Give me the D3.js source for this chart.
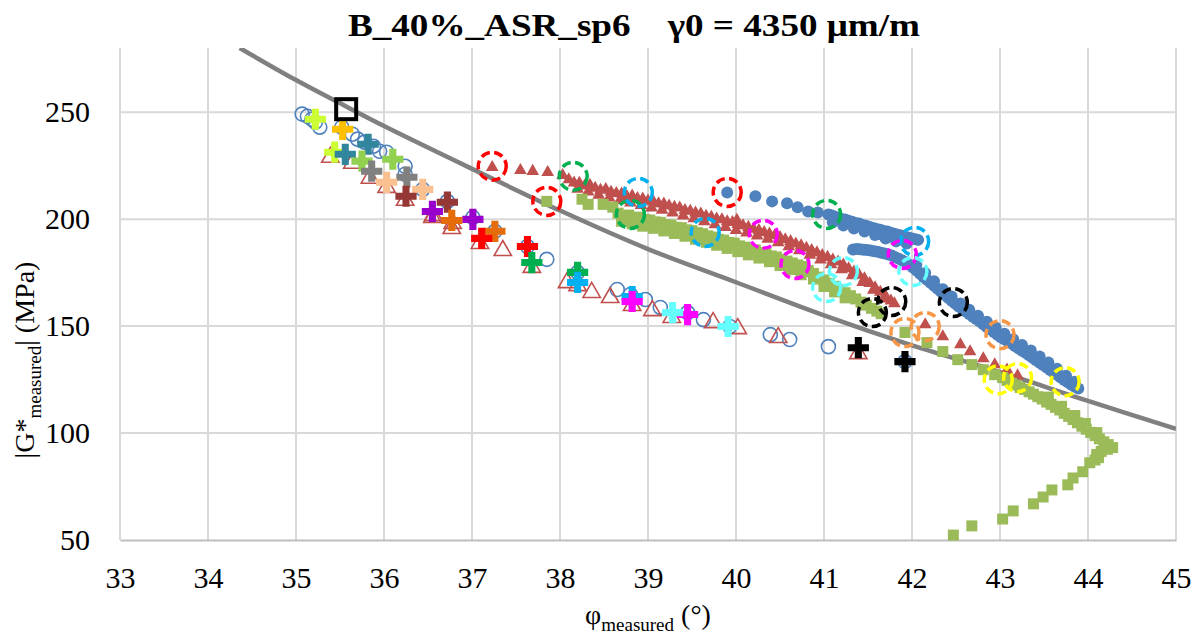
<!DOCTYPE html>
<html><head><meta charset="utf-8">
<script src="https://cdn.jsdelivr.net/npm/d3@7"></script>
<style>
body{margin:0;background:#fff}
svg text{font-family:"Liberation Serif","Times New Roman",Tinos,"DejaVu Serif","Noto Serif",serif !important;fill:#000}
</style>
</head><body>
<svg id="c" width="1200" height="638"></svg>
<script>
// ---------------- DATA ----------------
const xTicks=[33,34,35,36,37,38,39,40,41,42,43,44,45];
const yTicks=[50,100,150,200,250];
const titleText="B_40%_ASR_sp6    γ0 = 4350 μm/m";

// fitted reference curve (grey)
const fitCurve=[[34.36,280],[35,265],[35.6,252],[36,243.5],[37,223.5],[38,204],[39,186],[40,170.5],[41,155],[42,141],[43,128.5],[44,115],[45,102]];

// open blue circles (lower branch)
const openCircles=[[35.07,249.1],[35.13,248.1],[35.18,246.7],[35.22,245.3],[35.27,243.0],[35.52,243.0],[35.64,239.7],[35.70,237.4],[35.78,236.0],[35.88,234.1],[35.95,231.7],[36.03,231.3],[36.24,224.7],[36.24,221.0],[36.44,213.9],[36.72,208.3],[37.01,200.8],[37.26,194.3],[37.63,187.2],[37.85,181.2],[38.20,175.1],[38.65,167.1],[38.80,164.8],[38.97,162.4],[39.14,158.7],[39.45,156.3],[39.63,153.0],[39.93,149.8],[40.39,146.0],[40.61,143.7],[41.05,140.4],[41.92,133.4]];

// open red triangles (lower branch)
const openTriangles=[[35.39,229.4],[35.64,226.6],[35.84,219.6],[36.03,215.3],[36.24,209.3],[36.55,201.3],[36.56,202.2],[36.78,198.5],[36.77,196.1],[37.09,189.1],[37.35,185.8],[37.68,177.9],[38.08,170.8],[38.20,169.4],[38.36,166.2],[38.57,163.8],[38.82,160.1],[39.05,157.7],[39.27,154.5],[39.74,152.1],[40.02,149.3],[40.48,145.1],[41.39,137.6]];

// plus-sign series (pairs)
const plusPoints=[
 [[35.22,246.7],[35.44,231.3]],
 [[35.53,242.0]],
 [[35.82,235.0],[35.56,230.3]],
 [[35.75,227.1],[36.10,228.0]],
 [[35.86,222.4],[36.26,219.6]],
 [[36.03,217.2],[36.44,213.9]],
 [[36.25,210.7],[36.72,207.9]],
 [[36.55,203.6],[37.01,199.9]],
 [[36.77,199.4],[37.26,194.3]],
 [[37.11,191.0],[37.63,187.2]],
 [[37.68,179.7],[38.20,175.1]],
 [[38.20,170.4],[38.82,163.8]],
 [[38.82,161.5],[39.45,155.4]],
 [[39.28,156.3],[39.91,149.8]],
 [[41.39,139.9],[41.92,133.4]]
];

// filled red triangles (upper middle branch + lower trail)
const redTriangles=[[37.23,224.2],[37.55,222.8],[37.69,222.4],[37.86,221.9],[38.03,220.5],
[38.10,218.5],[38.16,217.0],[38.22,216.8],[38.28,215.6],[38.34,215.9],[38.40,214.5],[38.46,213.6],[38.52,213.9],[38.58,212.6],[38.64,212.1],[38.70,211.8],[38.76,210.6],[38.82,210.9],[38.88,209.7],[38.94,209.5],[39.00,208.6],[39.06,208.2],[39.12,207.3],[39.18,207.1],[39.24,206.2],[39.30,205.6],[39.36,205.3],[39.42,204.1],[39.48,203.8],[39.54,202.9],[39.60,202.5],[39.66,201.4],[39.72,201.0],[39.78,200.1],[39.84,199.8],[39.90,198.8],[39.96,198.5],[40.01,199.5],[40.02,197.6],[40.08,197.0],[40.14,196.3],[40.20,195.4],[40.26,194.8],[40.32,193.8],[40.38,193.1],[40.44,192.3],[40.50,191.5],[40.56,190.4],[40.62,189.6],[40.68,188.5],[40.74,187.6],[40.80,186.5],[40.86,185.4],[40.92,184.3],[40.98,183.1],[41.04,182.2],[41.10,181.0],[41.16,180.0],[41.22,178.6],[41.28,176.9],[41.34,175.4],[41.40,173.8],[41.46,172.2],[41.52,170.0],[41.58,168.0],[41.64,165.9],[41.70,164.0],[41.76,161.8],[41.80,160.5],
[38.20,214.0],[38.32,212.8],[38.44,211.2],[38.56,210.0],[38.68,208.8],[38.80,207.6],[38.92,206.5],[39.04,205.3],[39.16,204.2],[39.28,202.9],[39.40,201.6],[39.52,200.3],[39.64,198.9],[39.76,197.5],[39.88,196.2],[40.00,194.8],[40.12,193.6],[40.24,192.2],[40.36,190.7],[40.48,189.0],[40.60,187.2],[40.72,185.3],[40.84,183.2],[40.96,181.0],[41.08,178.8],[41.20,176.4],[41.32,173.6],[41.44,170.4],[41.56,166.8],[41.68,162.8],
[42.15,150.7],[42.35,145.1],[42.55,141.3],[42.66,138.1],[42.81,134.8],[42.94,132.0],[43.08,129.6],[43.20,126.8]];

// filled green squares
const greenSquares=[[37.85,208.3],[38.25,209.3],[38.32,206.9],[38.49,206.9],[38.60,205.6],
[38.66,202.8],[38.72,201.6],[38.78,201.9],[38.84,200.8],[38.90,200.9],[38.96,199.8],[39.02,199.6],[39.08,198.7],[39.14,198.5],[39.20,197.4],[39.26,197.3],[39.32,196.2],[39.38,196.0],[39.44,195.0],[39.50,194.6],[39.56,193.7],[39.62,193.2],[39.68,192.2],[39.74,191.6],[39.80,190.6],[39.86,190.2],[39.92,189.1],[39.98,188.8],[40.04,187.5],[40.10,186.9],[40.16,186.0],[40.22,185.6],[40.28,184.4],[40.34,184.0],[40.40,182.8],[40.46,182.3],[40.52,181.2],[40.58,180.4],[40.64,179.5],[40.70,178.6],[40.76,177.9],[40.76,175.5],[40.82,176.0],[40.88,174.6],[40.88,172.0],[40.94,172.9],[41.00,171.6],[41.00,168.5],[41.06,170.0],[41.12,168.6],[41.12,166.0],[41.18,167.0],[41.24,165.6],[41.24,163.2],[41.30,164.2],[41.36,162.7],[41.42,161.2],[41.48,159.8],[41.54,158.3],[41.60,157.0],[41.65,155.8],
[38.70,199.0],[38.82,197.8],[38.94,196.7],[39.06,195.7],[39.18,194.5],[39.30,193.3],[39.42,192.0],[39.54,190.6],[39.66,189.2],[39.78,187.8],[39.90,186.3],[40.02,184.8],[40.14,183.3],[40.26,181.8],[40.38,180.1],[40.50,178.3],[40.62,176.4],[40.74,174.0],
[41.92,147.0],[42.17,142.3],[42.35,138.1],[42.52,134.3],[42.68,132.0],[42.81,129.6],[42.94,127.3],[43.03,125.9],
[43.08,124.6],[43.13,123.3],[43.18,122.4],[43.23,121.3],[43.28,120.4],[43.33,119.3],[43.38,118.2],[43.43,117.0],[43.48,115.9],[43.53,114.5],[43.58,113.4],[43.63,112.0],[43.68,110.8],[43.73,109.2],[43.78,107.8],[43.83,106.3],[43.88,104.8],[43.93,103.2],[43.98,101.8],[44.03,100.3],[44.08,98.8],[44.13,97.3],[44.18,95.9],[44.23,94.6],[44.28,93.2],
[43.55,116.8],[43.70,112.5],[43.85,108.2],[43.97,104.5],[44.10,100.2],[44.22,92.4],[44.15,91.4],[44.10,90.0],[44.12,88.5],[44.08,87.4],
[44.10,88.9],[44.02,86.1],[43.94,81.9],[43.83,79.0],[43.77,75.8],[43.59,73.4],[43.49,70.1],[43.38,66.9],[43.15,63.6],[43.03,59.8],[42.68,56.6],[42.47,52.3]];

// filled blue circles (upper right branch)
const blueCircles=[[39.90,212.5],[40.22,210.7],[40.41,208.3],[40.58,207.4],[40.70,205.5],[40.82,203.6],[40.93,203.1],[41.05,202.2],
[41.08,201.8],[41.12,201.2],[41.16,200.7],[41.20,200.1],[41.24,199.8],[41.28,199.2],[41.32,198.8],[41.36,198.2],[41.40,197.9],[41.44,197.2],[41.48,196.9],[41.52,196.3],[41.56,195.9],[41.60,195.4],[41.60,193.5],[41.64,195.0],[41.64,193.0],[41.68,194.5],[41.72,194.2],[41.70,192.5],[41.76,193.6],[41.80,193.2],[41.80,191.5],[41.84,192.7],[41.88,192.3],[41.88,190.5],[41.92,191.8],[41.96,191.4],[42.00,190.9],[42.04,190.6],[42.07,190.3],
[41.10,198.6],[41.22,197.0],[41.34,195.6],[41.46,194.2],[41.58,192.6],[41.70,191.0],[41.82,189.6],[41.94,188.6],
[41.33,185.8],[41.37,186.0],[41.41,185.9],[41.45,185.7],[41.49,185.6],[41.53,185.3],[41.57,185.0],[41.61,184.8],[41.65,184.3],[41.69,183.9],[41.73,183.5],[41.77,183.0],[41.81,182.2],[41.85,181.5],[41.89,180.7],[41.93,179.8],[41.97,178.7],[42.01,177.4],[42.05,176.0],[42.09,174.5],[42.13,173.0],[42.17,171.6],[42.21,170.2],[42.25,168.8],[42.29,167.4],[42.33,166.0],[42.37,164.6],[42.41,163.2],[42.45,161.8],[42.49,160.5],[42.53,159.2],[42.57,158.0],[42.61,156.8],[42.65,155.6],[42.69,154.4],[42.73,153.3],[42.77,152.1],[42.81,150.8],[42.85,149.6],[42.89,148.4],[42.93,147.2],[42.97,146.0],[43.01,144.8],[43.05,143.8],[43.09,142.8],[43.13,141.8],[43.17,140.7],[43.21,139.6],[43.25,138.5],[43.29,137.5],[43.33,136.4],[43.37,135.2],[43.41,134.0],[43.45,132.9],[43.49,131.8],[43.53,130.6],[43.57,129.5],[43.61,128.3],[43.65,127.2],[43.69,126.0],[43.73,124.8],[43.77,123.7],[43.81,122.6],[43.85,121.6],[43.89,120.8],
[42.05,178.5],[42.15,174.8],[42.25,171.0],[42.35,167.2],[42.45,163.8],[42.55,160.6],[42.65,157.6],[42.75,154.8],[42.85,152.0],[42.95,149.3],[43.05,146.4],[43.15,143.8],[43.25,141.2],[43.35,138.6],[43.45,135.8],[43.55,133.0],[43.65,130.0],[43.75,126.8],[43.85,124.0]];

// dashed highlight circles (one series per colour, three points each)
const dashPoints=[
 [[37.23,224.7],[37.85,208.3],[39.90,212.5]],
 [[38.15,220.0],[38.80,202.2],[41.03,202.2]],
 [[38.89,212.5],[39.65,193.8],[42.03,189.6]],
 [[40.31,192.9],[40.67,178.8],[41.89,183.5]],
 [[41.22,175.5],[41.03,168.0],[42.01,175.5]],
 [[41.77,161.5],[41.55,156.3],[42.47,161.0]],
 [[42.15,149.8],[41.92,147.0],[43.00,146.0]],
 [[42.98,124.9],[43.20,125.9],[43.74,124.0]]
];

// black hollow square
const squarePoint=[[35.57,251.4]];

// ---------------- STYLE ----------------
const plusColors=["#CCFF33","#FFC000","#31859C","#92D050","#808080","#FAC090","#953735","#9900CC","#E46C0A","#FF0000","#00B050","#00B0F0","#FF00FF","#66FFFF","#000000"];
const dashColors=["#FF0000","#00B050","#00B0F0","#FF00FF","#66FFFF","#000000","#F79646","#FFFF00"];
const BLUE="#4F81BD", RED="#C0504D", GREEN="#9BBB59";
const SERIF='"Liberation Serif","Times New Roman",Tinos,"DejaVu Serif",serif';

const L=120,R=1176,T=48,B=540;
const svg=d3.select("#c");
const x=d3.scaleLinear().domain([33,45]).range([L,R]);
const y=d3.scaleLinear().domain([50,280]).range([B,T]);

// grid
svg.append("g").selectAll("line").data(xTicks).join("line")
 .attr("x1",d=>x(d)).attr("x2",d=>x(d)).attr("y1",T).attr("y2",B)
 .attr("stroke","#D9D9D9").attr("stroke-width",2);
svg.append("g").selectAll("line").data(yTicks.slice(1)).join("line")
 .attr("x1",L).attr("x2",R).attr("y1",d=>y(d)).attr("y2",d=>y(d))
 .attr("stroke","#D9D9D9").attr("stroke-width",2);

// axes
const gx=svg.append("g").attr("transform",`translate(0,${B})`)
 .call(d3.axisBottom(x).tickValues(xTicks).tickFormat(d3.format("d")).tickSize(0).tickSizeOuter(0).tickPadding(27));
gx.attr("font-family",SERIF);
gx.select(".domain").attr("stroke","#BFBFBF").attr("stroke-width",2);
gx.selectAll("text").attr("font-family",SERIF).style("font-size","30px");
const gy=svg.append("g").attr("transform",`translate(${L},0)`)
 .call(d3.axisLeft(y).tickValues(yTicks).tickSize(0).tickPadding(30));
gy.attr("font-family",SERIF);
gy.select(".domain").remove();
gy.selectAll("text").attr("font-family",SERIF).style("font-size","30px");

// clip
svg.append("clipPath").attr("id","clip").append("rect").attr("x",L).attr("y",T).attr("width",R-L).attr("height",B-T);
const plot=svg.append("g");

// grey curve
plot.append("path").datum(fitCurve).attr("clip-path","url(#clip)")
 .attr("d",d3.line().x(d=>x(d[0])).y(d=>y(d[1])).curve(d3.curveCatmullRom))
 .attr("fill","none").attr("stroke","#808080").attr("stroke-width",4.5);

const sym=(t,s)=>d3.symbol().type(t).size(s)();

// filled blue circles
plot.append("g").selectAll("circle").data(blueCircles).join("circle")
 .attr("cx",d=>x(d[0])).attr("cy",d=>y(d[1])).attr("r",6).attr("fill",BLUE);
// filled red triangles
plot.append("g").selectAll("path").data(redTriangles).join("path")
 .attr("d",sym(d3.symbolTriangle,70)).attr("transform",d=>`translate(${x(d[0])},${y(d[1])})`).attr("fill",RED);
// green squares
plot.append("g").selectAll("path").data(greenSquares).join("path")
 .attr("d",sym(d3.symbolSquare,121)).attr("transform",d=>`translate(${x(d[0])},${y(d[1])})`).attr("fill",GREEN);
// open circles
plot.append("g").selectAll("circle").data(openCircles).join("circle")
 .attr("cx",d=>x(d[0])).attr("cy",d=>y(d[1])).attr("r",7).attr("fill","none").attr("stroke",BLUE).attr("stroke-width",1.6);
// open triangles
plot.append("g").selectAll("path").data(openTriangles).join("path")
 .attr("d",sym(d3.symbolTriangle,130)).attr("transform",d=>`translate(${x(d[0])},${y(d[1])+1})`).attr("fill","none").attr("stroke",RED).attr("stroke-width",1.6);
// pluses
plusPoints.forEach((pts,i)=>{
 plot.append("g").selectAll("path").data(pts).join("path")
  .attr("d",sym(d3.symbolCross,250)).attr("transform",d=>`translate(${x(d[0])},${y(d[1])})`).attr("fill",plusColors[i]);
});
// dashed circles
dashPoints.forEach((pts,i)=>{
 plot.append("g").selectAll("circle").data(pts).join("circle")
  .attr("cx",d=>x(d[0])).attr("cy",d=>y(d[1])).attr("r",14).attr("fill","none")
  .attr("stroke",dashColors[i]).attr("stroke-width",3.5).attr("stroke-dasharray","9,4.5");
});
// black square
plot.append("g").selectAll("rect").data(squarePoint).join("rect")
 .attr("x",d=>x(d[0])-10).attr("y",d=>y(d[1])-10).attr("width",20).attr("height",20)
 .attr("fill","none").attr("stroke","#000").attr("stroke-width",4);

// title
svg.append("text").attr("x",634).attr("y",36).attr("text-anchor","middle").attr("font-family",SERIF)
 .attr("textLength",572).attr("lengthAdjust","spacingAndGlyphs")
 .style("font-size","32px").style("font-weight","bold").style("white-space","pre").text(titleText);

// x-axis title
const xt=svg.append("text").attr("x",648).attr("y",624).attr("text-anchor","middle").attr("font-family",SERIF).style("font-size","28px");
xt.append("tspan").text("φ");
xt.append("tspan").attr("dy",7).style("font-size","19px").text("measured");
xt.append("tspan").attr("dy",-7).text(" (°)");

// y-axis title
const yt=svg.append("text").attr("transform","translate(34,360) rotate(-90)").attr("text-anchor","middle").attr("font-family",SERIF).style("font-size","28px");
yt.append("tspan").text("|G*");
yt.append("tspan").attr("dy",7).style("font-size","19px").text("measured");
yt.append("tspan").attr("dy",-7).text("| (MPa)");
</script>
</body></html>
